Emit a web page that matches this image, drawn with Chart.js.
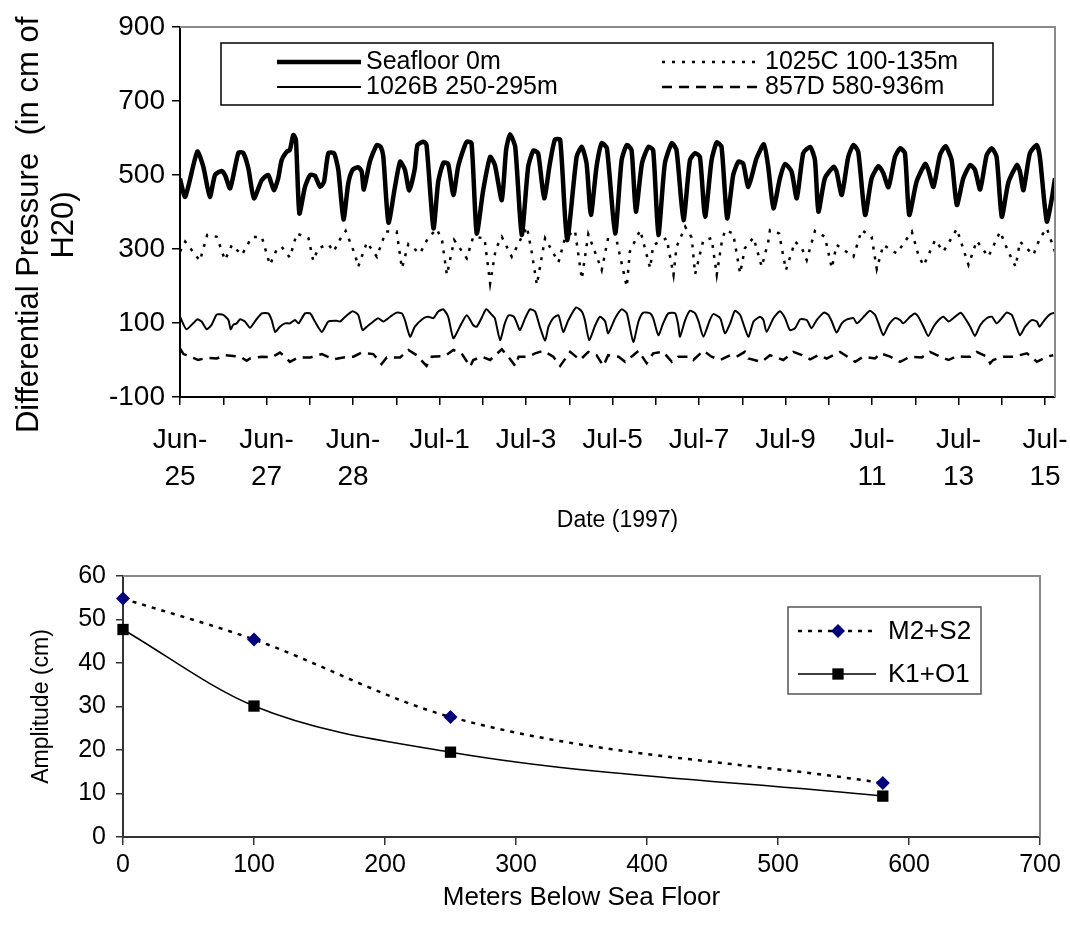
<!DOCTYPE html>
<html>
<head>
<meta charset="utf-8">
<script src="https://cdn.jsdelivr.net/npm/chart.js@4.4.1/dist/chart.umd.min.js"></script>
<style>
html,body{margin:0;padding:0;background:#fff;}
#wrap{position:relative;width:1070px;height:935px;overflow:hidden;}
#c1{position:absolute;left:0;top:0;}
#c2{position:absolute;left:0;top:540px;}
</style>
</head>
<body>
<div id="wrap">
<canvas id="c1" width="1070" height="540"></canvas>
<canvas id="c2" width="1070" height="395"></canvas>
</div>
<script>
// ---------------- DATA ----------------
// Top panel: time in days since first tick (Jun-25), differential pressure (cm H2O)
const dateLabels = [["Jun-","25"],["Jun-","27"],["Jun-","28"],"Jul-1","Jul-3","Jul-5","Jul-7","Jul-9",["Jul-","11"],["Jul-","13"],["Jul-","15"]];

const seafloorT = [0,0.12,0.40,0.54,0.69,0.81,0.96,1.04,1.16,1.35,1.46,1.58,1.71,1.89,2.04,2.17,2.27,2.35,2.47,2.54,2.62,2.68,2.76,2.89,3.01,3.12,3.24,3.33,3.43,3.56,3.66,3.78,3.89,3.99,4.12,4.20,4.25,4.39,4.55,4.64,4.70,4.82,4.97,5.09,5.20,5.30,5.43,5.49,5.63,5.70,5.86,5.97,6.09,6.20,6.32,6.43,6.55,6.63,6.74,6.86,7.01,7.17,7.28,7.44,7.54,7.63,7.75,7.90,8.05,8.17,8.28,8.42,8.55,8.67,8.79,8.95,9.17,9.29,9.40,9.50,9.63,9.75,9.87,10.06,10.21,10.33,10.44,10.54,10.68,10.83,10.94,11.06,11.21,11.37,11.48,11.64,11.79,11.91,12.02,12.14,12.29,12.41,12.52,12.65,12.79,12.91,13.02,13.14,13.33,13.50,13.60,13.72,13.87,13.99,14.14,14.26,14.41,14.57,14.68,14.76,14.91,15.11,15.18,15.30,15.45,15.57,15.68,15.84,15.99,16.15,16.26,16.38,16.53,16.65,16.76,16.86,17.03,17.23,17.30,17.42,17.57,17.70,17.84,17.96,18.11,18.27,18.38,18.50,18.65,18.77,18.88,19.00,19.15,19.35,19.42,19.50,19.65,19.81,19.88,20.04,20.15,20.23];
const seafloorV = [490,441,563,522,441,500,511,500,464,560,560,518,437,486,500,459,491,540,563,568,608,595,396,468,500,498,468,482,559,559,514,380,477,514,521,510,461,536,581,576,550,371,468,536,514,458,518,581,590,581,356,482,533,530,446,522,568,590,586,342,459,549,527,432,568,610,576,338,522,566,559,437,530,596,595,324,549,576,531,392,522,586,572,342,540,581,567,401,531,576,567,338,531,586,567,378,540,559,549,387,540,588,576,383,500,536,531,468,545,583,522,410,491,530,509,437,559,576,540,401,491,522,509,446,549,581,563,392,491,524,505,467,549,572,559,392,482,530,514,468,554,578,540,419,491,527,514,461,554,572,549,387,479,527,509,459,559,581,549,374,432,491];

const s1025cT = [0,0.12,0.46,0.63,0.85,1.04,1.20,1.43,1.66,1.89,2.08,2.24,2.35,2.54,2.70,2.97,3.08,3.20,3.43,3.55,3.70,3.83,4.05,4.12,4.32,4.55,4.76,5.01,5.13,5.28,5.55,5.74,5.94,6.06,6.17,6.34,6.63,6.78,7.04,7.17,7.30,7.44,7.67,7.82,8.02,8.13,8.25,8.44,8.75,8.90,9.13,9.29,9.44,9.75,9.90,10.06,10.33,10.40,10.64,10.87,10.94,11.25,11.41,11.48,11.68,11.83,11.91,12.10,12.29,12.41,12.52,12.60,12.79,12.95,13.06,13.26,13.45,13.60,13.64,13.85,14.01,14.22,14.38,14.49,14.68,14.91,15.07,15.18,15.57,15.76,15.99,16.11,16.26,16.57,16.92,17.07,17.19,17.46,17.65,17.96,18.23,18.42,18.69,18.96,19.15,19.32,19.42,19.73,19.88,20.04,20.23];
const s1025cV = [293,320,268,338,333,270,311,284,332,333,257,300,306,277,342,329,268,302,313,293,326,349,284,252,318,279,347,347,248,313,288,331,354,322,230,324,275,333,329,207,300,333,279,313,360,293,203,329,264,329,351,219,340,243,331,342,198,293,351,248,311,329,230,306,360,331,232,324,329,230,315,351,342,234,302,331,252,320,351,342,243,320,302,270,349,333,248,311,279,351,333,246,311,288,347,284,255,324,293,354,257,322,279,347,293,252,320,284,329,356,293];

const s1026bT = [0,0.15,0.40,0.50,0.62,0.73,0.85,1.00,1.12,1.17,1.23,1.31,1.39,1.50,1.62,1.73,1.89,2.04,2.12,2.20,2.31,2.43,2.54,2.66,2.74,2.89,3.01,3.12,3.28,3.43,3.62,3.70,3.82,3.99,4.12,4.22,4.32,4.47,4.58,4.70,4.86,5.01,5.13,5.20,5.32,5.43,5.63,5.74,5.86,5.97,6.09,6.20,6.32,6.47,6.63,6.78,6.86,6.97,7.08,7.21,7.28,7.40,7.51,7.60,7.72,7.79,7.86,7.98,8.09,8.21,8.32,8.44,8.52,8.63,8.75,8.86,8.98,9.16,9.29,9.36,9.46,9.60,9.71,9.83,9.90,10.06,10.21,10.33,10.48,10.60,10.71,10.87,10.94,11.06,11.17,11.29,11.45,11.52,11.56,11.68,11.79,11.91,11.99,12.10,12.25,12.33,12.49,12.60,12.72,12.83,12.95,13.14,13.26,13.41,13.49,13.56,13.72,13.87,13.99,14.10,14.22,14.34,14.49,14.60,14.72,14.89,14.99,15.07,15.18,15.30,15.42,15.57,15.65,15.84,15.95,16.07,16.15,16.26,16.38,16.53,16.65,16.72,16.88,16.99,17.07,17.19,17.30,17.42,17.54,17.65,17.77,17.88,18.05,18.15,18.27,18.38,18.50,18.65,18.77,18.88,19.00,19.11,19.23,19.31,19.42,19.54,19.69,19.81,19.87,20.00,20.12,20.23];
const s1026bV = [117,83,110,104,83,95,123,122,108,83,95,99,110,104,87,104,126,126,108,76,90,99,99,108,99,126,126,104,76,104,106,104,117,132,122,81,90,104,113,104,117,128,126,108,63,90,113,117,113,131,137,117,59,90,121,94,90,113,137,122,113,54,99,121,117,99,81,113,137,131,90,52,90,113,121,76,108,142,131,108,54,94,117,104,72,113,137,126,49,104,128,126,113,67,99,126,126,94,63,108,133,126,104,63,108,124,113,72,99,133,122,63,104,117,108,76,113,132,113,81,86,110,108,86,108,128,122,104,74,99,110,113,99,121,133,122,99,67,94,113,108,99,117,126,117,90,65,90,108,117,104,113,128,113,90,65,94,113,117,99,113,128,122,99,67,90,108,104,90,110,124,128];

const s857dT = [0,0.08,0.15,0.42,0.62,0.85,1.04,1.39,1.54,1.62,1.89,2.12,2.31,2.43,2.54,2.74,3.01,3.28,3.55,3.78,4.01,4.20,4.47,4.66,4.78,5.09,5.28,5.47,5.70,5.82,6.13,6.32,6.51,6.71,6.78,6.98,7.17,7.44,7.59,7.75,7.83,8.05,8.21,8.40,8.63,8.79,9.02,9.25,9.44,9.63,9.79,9.90,10.14,10.29,10.48,10.60,10.79,10.94,11.17,11.37,11.52,11.79,11.87,12.10,12.29,12.49,12.72,12.87,13.06,13.14,13.45,13.64,13.95,14.18,14.38,14.57,14.76,14.95,15.26,15.38,15.61,15.80,16.07,16.19,16.42,16.65,16.88,17.15,17.34,17.57,17.77,17.96,18.11,18.27,18.42,18.65,18.73,18.80,19.03,19.27,19.58,19.73,19.81,20.04,20.19];
const s857dV = [31,16,13,0,6,4,13,9,-2,4,9,7,20,9,-5,7,7,16,2,7,9,20,16,-11,7,7,27,13,-16,9,11,27,18,-18,0,9,0,29,9,-16,9,9,18,25,9,-16,22,0,22,13,-16,13,9,-5,13,25,-9,18,22,-5,9,9,0,25,9,0,13,9,22,4,-5,13,0,22,13,2,13,4,22,13,-5,9,4,18,9,-5,9,7,22,9,0,11,9,9,22,9,-9,0,9,9,18,4,-5,9,13];

// Bottom panel: amplitude vs depth
const depths = [0, 100, 250, 580];
const m2s2 = [54.8, 45.4, 27.6, 12.4];
const k1o1 = [47.7, 30.1, 19.5, 9.4];

// ---------------- HELPERS ----------------
const FONT = "'Liberation Sans', Arial, Helvetica, sans-serif";
function pts(xs, ys) {
  const n = Math.min(xs.length, ys.length), out = [];
  for (let i = 0; i < n; i++) out.push({x: xs[i], y: ys[i]});
  return out;
}

const framePlugin = {
  id: 'frame',
  afterDraw(chart) {
    const {ctx, chartArea: a} = chart;
    ctx.save();
    ctx.strokeStyle = '#8a8a8a';
    ctx.lineWidth = 2;
    ctx.beginPath();
    ctx.moveTo(a.left, a.top);
    ctx.lineTo(a.right, a.top);
    ctx.lineTo(a.right, a.bottom);
    ctx.stroke();
    ctx.restore();
  }
};

const topLegend = {
  id: 'topLegend',
  afterDraw(chart) {
    const ctx = chart.ctx;
    ctx.save();
    ctx.fillStyle = '#fff';
    ctx.fillRect(221, 43, 772, 62);
    ctx.strokeStyle = '#000';
    ctx.lineWidth = 1.5;
    ctx.strokeRect(221, 43, 772, 62);
    const cols = [[277, 361], [662, 760]];
    const rows = [62, 87];
    const place = [[0, 0, 0], [1, 1, 0], [2, 0, 1], [3, 1, 1]];
    ctx.font = '25px ' + FONT;
    ctx.textBaseline = 'middle';
    ctx.textAlign = 'left';
    place.forEach(([i, c, r]) => {
      const ds = chart.data.datasets[i];
      ctx.beginPath();
      ctx.setLineDash(ds.borderDash || []);
      ctx.lineWidth = ds.borderWidth;
      ctx.strokeStyle = '#000';
      ctx.moveTo(cols[c][0], rows[r]);
      ctx.lineTo(cols[c][1], rows[r]);
      ctx.stroke();
      ctx.setLineDash([]);
      ctx.fillStyle = '#000';
      ctx.fillText(ds.label, cols[c][1] + 5, rows[r]);
    });
    ctx.restore();
  }
};

const bottomLegend = {
  id: 'bottomLegend',
  afterDraw(chart) {
    const ctx = chart.ctx;
    ctx.save();
    ctx.fillStyle = '#fff';
    ctx.fillRect(788, 67, 193, 87);
    ctx.strokeStyle = '#555';
    ctx.lineWidth = 1.5;
    ctx.strokeRect(788, 67, 193, 87);
    const rows = [91, 134];
    ctx.font = '26px ' + FONT;
    ctx.textBaseline = 'middle';
    ctx.textAlign = 'left';
    chart.data.datasets.forEach((ds, i) => {
      const y = rows[i];
      ctx.beginPath();
      ctx.setLineDash(ds.borderDash || []);
      ctx.lineWidth = ds.borderWidth;
      ctx.strokeStyle = ds.borderColor;
      ctx.moveTo(798, y);
      ctx.lineTo(876, y);
      ctx.stroke();
      ctx.setLineDash([]);
      ctx.fillStyle = ds.pointBackgroundColor;
      const mx = 838, r = ds.pointRadius;
      ctx.beginPath();
      if (ds.pointStyle === 'rectRot') {
        ctx.moveTo(mx, y - r); ctx.lineTo(mx + r, y); ctx.lineTo(mx, y + r); ctx.lineTo(mx - r, y); ctx.closePath();
      } else {
        const s = r * Math.SQRT1_2;
        ctx.rect(mx - s, y - s, 2 * s, 2 * s);
      }
      ctx.fill();
      ctx.fillStyle = '#000';
      ctx.fillText(ds.label, 888, y + 1);
    });
    ctx.restore();
  }
};

// ---------------- TOP CHART ----------------
new Chart(document.getElementById('c1'), {
  type: 'line',
  data: {
    datasets: [
      {label: 'Seafloor 0m', data: pts(seafloorT, seafloorV), borderColor: '#000', borderWidth: 4.5, pointRadius: 0, tension: 0.2},
      {label: '1025C 100-135m', data: pts(s1025cT, s1025cV), borderColor: '#000', borderWidth: 2.5, borderDash: [3, 7], pointRadius: 0},
      {label: '1026B 250-295m', data: pts(s1026bT, s1026bV), borderColor: '#000', borderWidth: 2, pointRadius: 0, tension: 0.2},
      {label: '857D 580-936m', data: pts(s857dT, s857dV), borderColor: '#000', borderWidth: 2.5, borderDash: [10, 7], pointRadius: 0}
    ]
  },
  options: {
    responsive: false,
    animation: false,
    events: [],
    layout: {padding: {left: 0, right: 15, top: 27, bottom: 0}},
    plugins: {legend: {display: false}, tooltip: {enabled: false}},
    scales: {
      x: {
        type: 'linear', min: 0, max: 20.23,
        afterFit(s) { s.height = 143; s.paddingLeft = 0; s.paddingRight = 0; },
        border: {color: '#000', width: 2},
        grid: {drawOnChartArea: false, drawTicks: true, tickLength: 8, color: '#000', lineWidth: 1.5},
        ticks: {
          stepSize: 1, includeBounds: false, autoSkip: false, maxRotation: 0, minRotation: 0,
          color: '#000', padding: 17, font: {family: FONT, size: 28, lineHeight: 1.32},
          callback(v) {
            const i = Math.round(v);
            if (Math.abs(v - i) > 1e-6 || i % 2) return '';
            return dateLabels[i / 2];
          }
        },
        title: {display: true, text: 'Date (1997)', color: '#000', font: {family: FONT, size: 23, lineHeight: 1.2}, padding: {top: 0, bottom: 6}}
      },
      y: {
        min: -100, max: 900,
        afterFit(s) { s.width = 180; s.paddingTop = 0; s.paddingBottom = 0; },
        border: {color: '#000', width: 2},
        grid: {drawOnChartArea: false, drawTicks: true, tickLength: 8, color: '#000', lineWidth: 1.5},
        ticks: {stepSize: 200, color: '#000', padding: 7, font: {family: FONT, size: 28}},
        title: {display: true, text: ['Differential Pressure  (in cm of   ', 'H20)   '], color: '#000', font: {family: FONT, size: 31, lineHeight: 1.12}, padding: {top: 12, bottom: 0}}
      }
    }
  },
  plugins: [framePlugin, topLegend]
});

// ---------------- BOTTOM CHART ----------------
new Chart(document.getElementById('c2'), {
  type: 'line',
  data: {
    datasets: [
      {label: 'M2+S2', data: pts(depths, m2s2), borderColor: '#000', borderWidth: 2.5, borderDash: [4, 6],
       pointStyle: 'rectRot', pointRadius: 7, pointBackgroundColor: '#000080', pointBorderColor: '#000080', pointBorderWidth: 0,
       cubicInterpolationMode: 'monotone', clip: false},
      {label: 'K1+O1', data: pts(depths, k1o1), borderColor: '#000', borderWidth: 1.5,
       pointStyle: 'rect', pointRadius: 8, pointBackgroundColor: '#000', pointBorderColor: '#000', pointBorderWidth: 0,
       cubicInterpolationMode: 'monotone', clip: false}
    ]
  },
  options: {
    responsive: false,
    animation: false,
    events: [],
    layout: {padding: {left: 0, right: 30, top: 36, bottom: 0}},
    plugins: {legend: {display: false}, tooltip: {enabled: false}},
    scales: {
      x: {
        type: 'linear', min: 0, max: 700,
        afterFit(s) { s.height = 98; s.paddingLeft = 0; s.paddingRight = 0; },
        border: {color: '#333', width: 2},
        grid: {drawOnChartArea: false, drawTicks: true, tickLength: 8, color: '#333', lineWidth: 1.5},
        ticks: {stepSize: 100, includeBounds: false, autoSkip: false, maxRotation: 0, color: '#000', padding: 5, font: {family: FONT, size: 25, lineHeight: 1.2}},
        title: {display: true, text: 'Meters Below Sea Floor', color: '#000', font: {family: FONT, size: 26, lineHeight: 1.2}, padding: {top: 0, bottom: 22}}
      },
      y: {
        min: 0, max: 60,
        afterFit(s) { s.width = 123; s.paddingTop = 0; s.paddingBottom = 0; },
        border: {color: '#333', width: 2},
        grid: {drawOnChartArea: false, drawTicks: true, tickLength: 7, color: '#333', lineWidth: 1.5},
        ticks: {stepSize: 10, color: '#000', padding: 10, font: {family: FONT, size: 25}},
        title: {display: true, text: 'Amplitude (cm)', color: '#000', font: {family: FONT, size: 23, lineHeight: 1.2}, padding: {top: 28, bottom: 0}}
      }
    }
  },
  plugins: [framePlugin, bottomLegend]
});
</script>
</body>
</html>
